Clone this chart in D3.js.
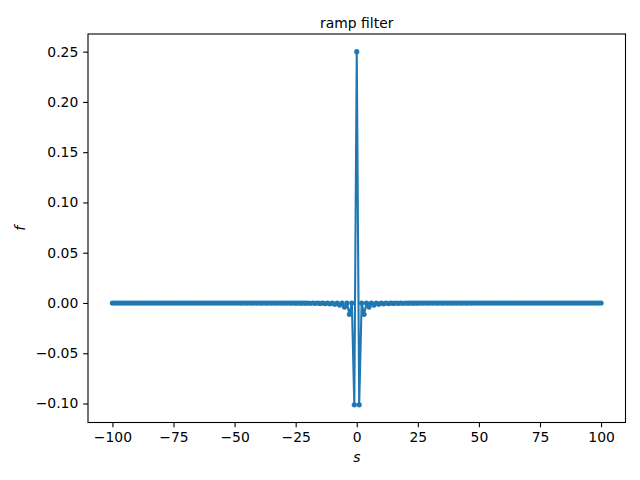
<!DOCTYPE html>
<html>
<head>
<meta charset="utf-8">
<script src="https://cdn.jsdelivr.net/npm/d3@7"></script>
<style>
  html, body { margin: 0; padding: 0; background: #fff; }
  svg { display: block; }
  text { font-family: "DejaVu Sans", sans-serif; }
</style>
</head>
<body>
<div id="chart"></div>
<script>
// ---- data ----
const title = "ramp filter";
const xLabel = "s";
const yLabel = "f";
const sValues = d3.range(-100, 101);   // sample positions s = -100..100
const fValues = [
  // s = -100 .. -50
  0,0,0,0,0,0,0,0,0,0,
  0,0,0,0,0,0,0,0,0,0,
  0,0,0,0,0,0,0,0,0,0,
  0,0,0,0,0,0,0,0,0,0,
  0,0,0,0,0,0,0,0,0,0,
  0,
  // s = -49 .. -1
  -0.00004, 0, -0.00005, 0, -0.00005, 0, -0.00005, 0, -0.00006, 0,
  -0.00007, 0, -0.00007, 0, -0.00008, 0, -0.00009, 0, -0.00011, 0,
  -0.00012, 0, -0.00014, 0, -0.00016, 0, -0.00019, 0, -0.00023, 0,
  -0.00028, 0, -0.00035, 0, -0.00045, 0, -0.00060, 0, -0.00084, 0,
  -0.00125, 0, -0.00207, 0, -0.00405, 0, -0.01126, 0, -0.10132,
  // s = 0
  0.25,
  // s = 1 .. 49
  -0.10132, 0, -0.01126, 0, -0.00405, 0, -0.00207, 0, -0.00125, 0,
  -0.00084, 0, -0.00060, 0, -0.00045, 0, -0.00035, 0, -0.00028, 0,
  -0.00023, 0, -0.00019, 0, -0.00016, 0, -0.00014, 0, -0.00012, 0,
  -0.00011, 0, -0.00009, 0, -0.00008, 0, -0.00007, 0, -0.00007, 0,
  -0.00006, 0, -0.00005, 0, -0.00005, 0, -0.00005, 0, -0.00004,
  // s = 50 .. 100
  0,0,0,0,0,0,0,0,0,0,
  0,0,0,0,0,0,0,0,0,0,
  0,0,0,0,0,0,0,0,0,0,
  0,0,0,0,0,0,0,0,0,0,
  0,0,0,0,0,0,0,0,0,0,
  0
];
const xTicks = [-100, -75, -50, -25, 0, 25, 50, 75, 100];
const yTicks = [-0.10, -0.05, 0.00, 0.05, 0.10, 0.15, 0.20, 0.25];

// ---- layout ----
const W = 640, H = 480;
const mLeft = 88, mRight = 625.5, mTop = 34, mBottom = 422.5;
const color = "#1f77b4";
const fontSize = 13.9;

const data = sValues.map((s, i) => ({ s, f: fValues[i] }));

const x = d3.scaleLinear().domain([-110, 110]).range([mLeft, mRight]);
const fMin = d3.min(fValues), fMax = d3.max(fValues);
const pad = (fMax - fMin) * 0.05;
const y = d3.scaleLinear().domain([fMin - pad, fMax + pad]).range([mBottom, mTop]);

const svg = d3.select("#chart").append("svg")
  .attr("width", W).attr("height", H)
  .attr("viewBox", `0 0 ${W} ${H}`);

const fmtMinus = s => s.replace("-", "\u2212");

// x axis
const xAxis = d3.axisBottom(x).tickValues(xTicks)
  .tickSize(4.86).tickPadding(4.5)
  .tickFormat(d => fmtMinus(d3.format("d")(d)));
const gx = svg.append("g").attr("transform", `translate(0,${mBottom})`).call(xAxis);
gx.select(".domain").remove();
gx.selectAll(".tick line").attr("stroke", "#000").attr("stroke-width", 1.1);
gx.selectAll(".tick text").attr("font-size", fontSize).attr("fill", "#000")
  .attr("font-family", "DejaVu Sans");

// y axis
const yAxis = d3.axisLeft(y).tickValues(yTicks)
  .tickSize(4.86).tickPadding(4.9)
  .tickFormat(d => fmtMinus(d3.format(".2f")(Math.abs(d) < 1e-12 ? 0 : d)));
const gy = svg.append("g").attr("transform", `translate(${mLeft},0)`).call(yAxis);
gy.select(".domain").remove();
gy.selectAll(".tick line").attr("stroke", "#000").attr("stroke-width", 1.1);
gy.selectAll(".tick text").attr("font-size", fontSize).attr("fill", "#000")
  .attr("font-family", "DejaVu Sans");

// line
const line = d3.line().x(d => x(d.s)).y(d => y(d.f));
svg.append("path").datum(data)
  .attr("d", line)
  .attr("fill", "none")
  .attr("stroke", color)
  .attr("stroke-width", 2.08)
  .attr("stroke-linejoin", "round")
  .attr("stroke-linecap", "butt");

// markers
svg.append("g").selectAll("circle").data(data).join("circle")
  .attr("cx", d => x(d.s))
  .attr("cy", d => y(d.f))
  .attr("r", 2.6)
  .attr("fill", color);

// frame
svg.append("rect")
  .attr("x", mLeft).attr("y", mTop)
  .attr("width", mRight - mLeft).attr("height", mBottom - mTop)
  .attr("fill", "none").attr("stroke", "#000").attr("stroke-width", 1.1);

// title
svg.append("text")
  .attr("x", (mLeft + mRight) / 2).attr("y", mTop - 6.5)
  .attr("text-anchor", "middle")
  .attr("font-size", fontSize)
  .text(title);

// x label
svg.append("text")
  .attr("x", (mLeft + mRight) / 2).attr("y", 461.5)
  .attr("text-anchor", "middle")
  .attr("font-size", fontSize)
  .attr("font-style", "italic")
  .text(xLabel);

// y label
svg.append("text")
  .attr("transform", `translate(24.5,${(mTop + mBottom) / 2}) rotate(-90)`)
  .attr("text-anchor", "middle")
  .attr("font-size", fontSize)
  .attr("font-style", "italic")
  .text(yLabel);
</script>
</body>
</html>
